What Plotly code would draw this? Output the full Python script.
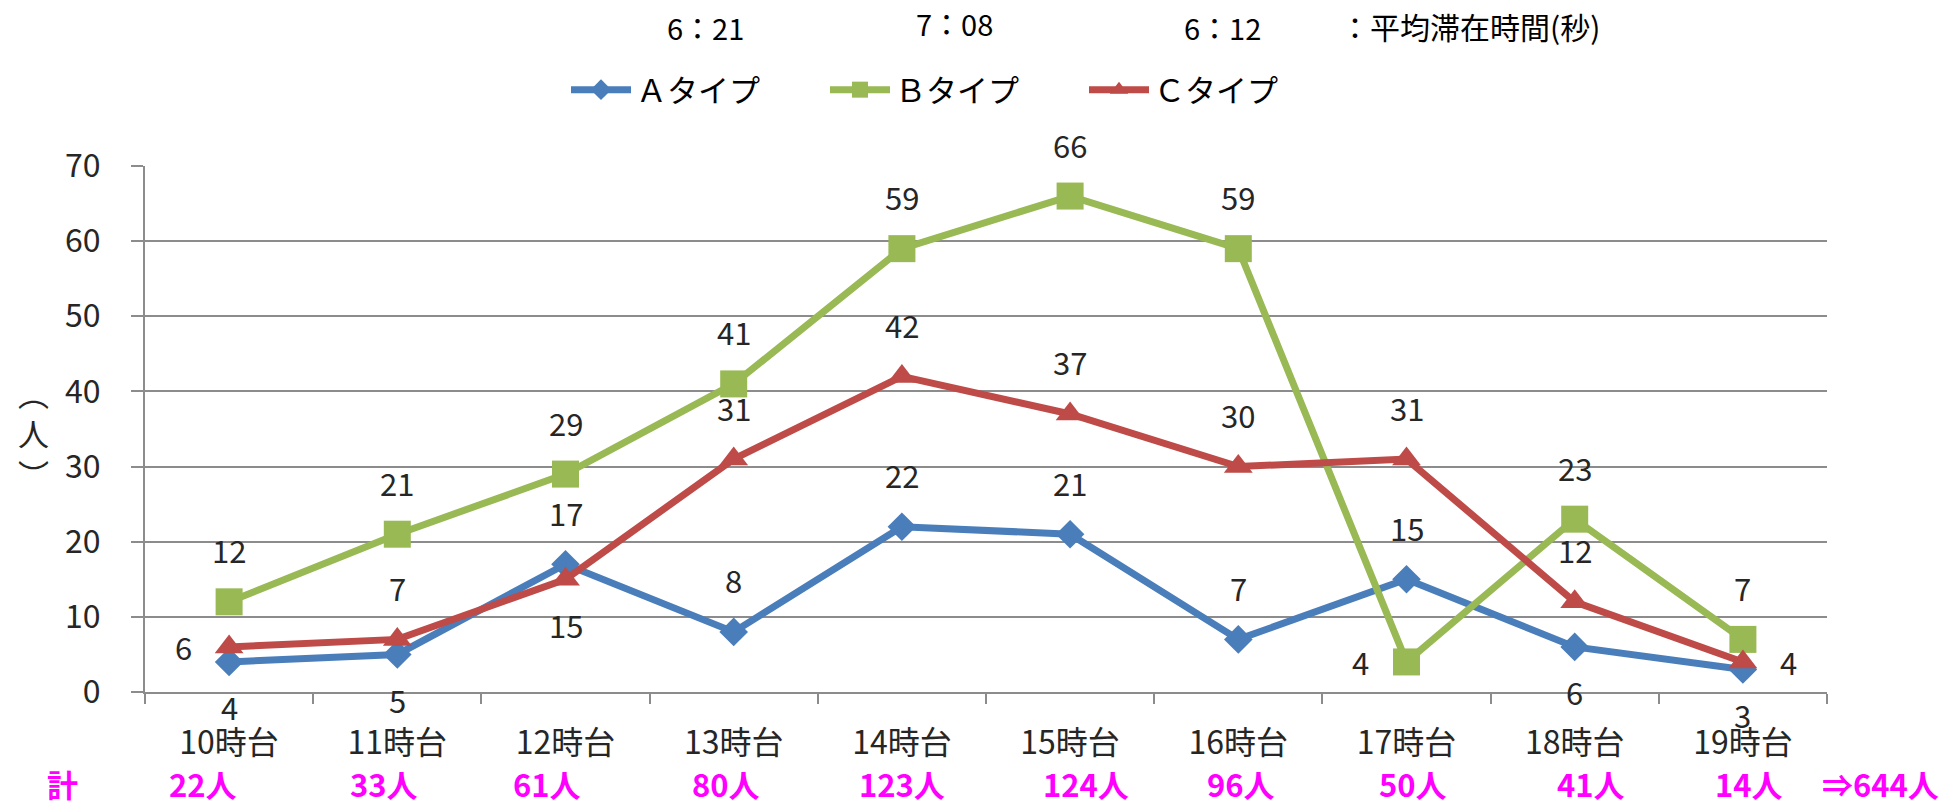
import plotly.graph_objects as go

# ---------------- data ----------------
categories = ["10時台", "11時台", "12時台", "13時台", "14時台",
              "15時台", "16時台", "17時台", "18時台", "19時台"]
series_names = ["Ａタイプ", "Ｂタイプ", "Ｃタイプ"]
a_values = [4, 5, 17, 8, 22, 21, 7, 15, 6, 3]
b_values = [12, 21, 29, 41, 59, 66, 59, 4, 23, 7]
c_values = [6, 7, 15, 31, 42, 37, 30, 31, 12, 4]
totals = [22, 33, 61, 80, 123, 124, 96, 50, 41, 14]
avg_times = ["6：21", "7：08", "6：12"]
avg_caption = "：平均滞在時間(秒)"
total_label = "計"
y_title = "︵<br>人<br>︶"
y_ticks = [0, 10, 20, 30, 40, 50, 60, 70]

# ---------------- styles ----------------
FONT = "Noto Sans CJK JP"
colors = ["#4A7EBB", "#98B954", "#BE4B48"]
symbols = ["diamond", "square", "triangle-up"]
msizes = [22, 27, 25]
label_pos = [
    ["below", "below", "above", "above", "above", "above", "above", "above", "below", "below"],
    ["above", "above", "above", "above", "above", "above", "above", "left", "above", "above"],
    ["left", "above", "below", "above", "above", "above", "above", "above", "above", "right"],
]
shift_map = {"above": (0, 52), "below": (0, -45), "left": (-46, 0), "right": (46, 0)}
total_xshift = [-26, -13, -19, -8, 0, 16, 3, 6, 16, 6]

L, R, T, B = 145, 118, 166, 115
W, H = 1945, 807
pw, ph = W - L - R, H - T - B


def px_to_paper_x(px):
    return (px - L) / pw


def px_to_paper_y(py):
    return (H - B - py) / ph


fig = go.Figure()
all_values = [a_values, b_values, c_values]
for name, vals, col, sym, ms in zip(series_names, all_values, colors, symbols, msizes):
    fig.add_trace(go.Scatter(
        x=categories, y=vals, name=name, mode="lines+markers",
        line=dict(color=col, width=7),
        marker=dict(symbol=sym, size=ms, color=col),
    ))

annotations = []
for vals, poss in zip(all_values, label_pos):
    for cat, v, p in zip(categories, vals, poss):
        xs, ys = shift_map[p]
        annotations.append(dict(
            x=cat, y=v, xref="x", yref="y", text=str(v), showarrow=False,
            xshift=xs, yshift=ys, xanchor="center", yanchor="middle",
            font=dict(family=FONT, size=31, color="#262626"),
        ))

# totals row
ty = px_to_paper_y(783)
tfont = dict(family=FONT, size=31, color="#FF00FF", weight="bold")
for cat, t, xs in zip(categories, totals, total_xshift):
    annotations.append(dict(
        x=cat, y=ty, xref="x", yref="paper", text=f"<b>{t}人</b>", showarrow=False,
        xshift=xs, font=tfont, xanchor="center", yanchor="middle", borderpad=0,
    ))
annotations.append(dict(x=px_to_paper_x(62), y=ty, xref="paper", yref="paper",
                        text=f"<b>{total_label}</b>", showarrow=False, font=tfont,
                        xanchor="center", yanchor="middle", borderpad=0))
annotations.append(dict(x=px_to_paper_x(1880), y=ty, xref="paper", yref="paper",
                        text=f"<b>⇒{sum(totals)}人</b>", showarrow=False, font=tfont,
                        xanchor="center", yanchor="middle", borderpad=0))

# average stay times at the top
avg_x = [705, 954, 1222]
avg_y = [27, 23, 27]
for txt, xp, yp in zip(avg_times, avg_x, avg_y):
    annotations.append(dict(x=px_to_paper_x(xp), y=px_to_paper_y(yp), xref="paper",
                            yref="paper", text=txt, showarrow=False,
                            font=dict(family=FONT, size=29, color="#000000"),
                            xanchor="center", yanchor="middle"))
annotations.append(dict(x=px_to_paper_x(1338), y=px_to_paper_y(26), xref="paper",
                        yref="paper", text=avg_caption, showarrow=False,
                        font=dict(family=FONT, size=30, color="#000000"),
                        xanchor="left", yanchor="middle"))

# y-axis title (vertical writing)
annotations.append(dict(x=px_to_paper_x(33), y=px_to_paper_y(433), xref="paper",
                        yref="paper", text=y_title, showarrow=False,
                        font=dict(family=FONT, size=31, color="#262626"),
                        xanchor="center", yanchor="middle"))

fig.update_layout(
    width=W, height=H,
    margin=dict(l=L, r=R, t=T, b=B),
    paper_bgcolor="white", plot_bgcolor="white",
    font=dict(family=FONT, size=31, color="#262626"),
    showlegend=True,
    legend=dict(orientation="h", x=px_to_paper_x(566), y=px_to_paper_y(90),
                xanchor="left", yanchor="middle",
                font=dict(family=FONT, size=31, color="#000000"),
                entrywidth=184, entrywidthmode="pixels", itemwidth=60),
    annotations=annotations,
)
fig.update_xaxes(
    type="category", range=[-0.5, len(categories) - 0.5],
    showline=True, linecolor="#8C8C8C", linewidth=2,
    ticks="outside", tickson="boundaries", ticklen=10, tickcolor="#8C8C8C", tickwidth=2,
    showgrid=False, tickfont=dict(family=FONT, size=32, color="#262626"),
    ticklabelstandoff=22,
)
fig.update_yaxes(
    range=[0, 70], tickvals=y_ticks, ticktext=[str(v) for v in y_ticks],
    showline=True, linecolor="#8C8C8C", linewidth=2,
    showgrid=True, gridcolor="#8C8C8C", gridwidth=2,
    ticks="outside", ticklen=12, tickcolor="#8C8C8C", tickwidth=2,
    tickfont=dict(family=FONT, size=32, color="#262626"),
    ticklabelstandoff=24, zeroline=False,
)

fig.write_html("out.html", config={"displayModeBar": False},
               post_script="document.body.style.margin='0px';")
